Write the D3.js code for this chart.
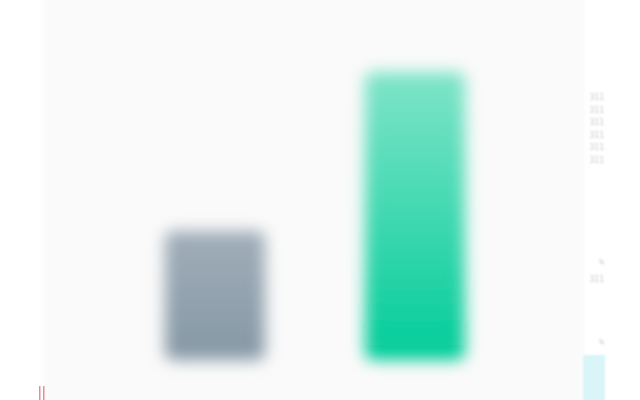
<!DOCTYPE html>
<html><head><meta charset="utf-8">
<script src="https://cdn.jsdelivr.net/npm/d3@7"></script>
<style>html,body{margin:0;padding:0;background:#fff;}svg{display:block;}</style>
</head><body>
<script>
const categories = ["A", "B"];
const values = [43, 96];
const barColors = [["#a0adb8", "#8698a5"], ["#80e4c8", "#00cc99"]];
const sideLabels = ["311", "311", "311", "311", "311", "311"];
const sideLabels2 = ["%", "311", "%"];

const W = 640, H = 400;
const svg = d3.select("body").append("svg").attr("width", W).attr("height", H);
const defs = svg.append("defs");
defs.append("filter").attr("id", "blur").attr("x", "-30%").attr("y", "-30%").attr("width", "160%").attr("height", "160%")
  .append("feGaussianBlur").attr("stdDeviation", 8);
defs.append("filter").attr("id", "blurS")
  .append("feGaussianBlur").attr("stdDeviation", 1);
defs.append("filter").attr("id", "blurP").attr("x", "-5%").attr("y", "-5%").attr("width", "110%").attr("height", "110%")
  .append("feGaussianBlur").attr("stdDeviation", 2);

barColors.forEach((c, i) => {
  const g = defs.append("linearGradient").attr("id", "g" + i).attr("x1", 0).attr("y1", 0).attr("x2", 0).attr("y2", 1);
  g.append("stop").attr("offset", "0%").attr("stop-color", c[0]);
  g.append("stop").attr("offset", "100%").attr("stop-color", c[1]);
});

// panel
svg.append("rect").attr("x", 44).attr("y", -10).attr("width", 540).attr("height", H + 20).attr("fill", "#fafafa").attr("filter", "url(#blurP)");

const x = d3.scaleBand().domain(categories).range([115, 515]).paddingInner(0.5).paddingOuter(0.25);
const y = d3.scaleLinear().domain([0, 100]).range([360, 60]);

svg.append("g").attr("filter", "url(#blur)")
  .selectAll("rect").data(values).join("rect")
  .attr("x", (d, i) => x(categories[i]))
  .attr("width", x.bandwidth())
  .attr("y", d => y(d))
  .attr("height", d => y(0) - y(d))
  .attr("rx", 8)
  .attr("fill", (d, i) => `url(#g${i})`);

// right strip elements
svg.append("rect").attr("x", 583).attr("y", 355).attr("width", 22).attr("height", 50).attr("fill", "#d9f5f7").attr("filter", "url(#blurS)");

const tg = svg.append("g").attr("filter", "url(#blurS)")
  .attr("font-family", "DejaVu Sans Mono, monospace").attr("font-size", 8).attr("fill", "#c8c8c8").attr("text-anchor", "end");
tg.selectAll("text.a").data(sideLabels).join("text").attr("class", "a")
  .attr("x", 604).attr("y", (d, i) => 100 + i * 12.5).text(d => d);
tg.selectAll("text.b").data(sideLabels2).join("text").attr("class", "b")
  .attr("x", 604).attr("y", (d, i) => [265, 282, 345][i]).text(d => d);

// red marks bottom left
svg.append("g").selectAll("rect").data([39, 43]).join("rect")
  .attr("x", d => d).attr("width", 1.5).attr("y", 386).attr("height", 14)
  .attr("fill", "#e58d9b");
</script>
</body></html>
